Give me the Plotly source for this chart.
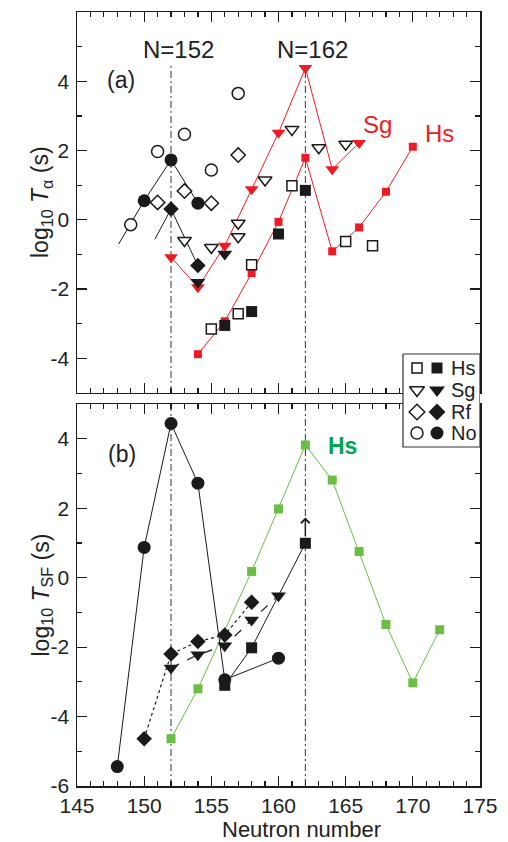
import plotly.graph_objects as go

# ---------------- data: panel (a) alpha half-lives ----------------
hs_open_a_n = [155, 157, 158, 161, 165, 167]
hs_open_a_v = [-3.15, -2.71, -1.30, 0.98, -0.63, -0.75]
hs_fill_a_n = [156, 158, 160, 162]
hs_fill_a_v = [-3.05, -2.65, -0.41, 0.85]
sg_open_a_n = [153, 155, 157, 157, 159, 161, 163, 165]
sg_open_a_v = [-0.60, -0.80, -0.10, -0.49, 1.15, 2.61, 2.08, 2.18]
sg_fill_a_n = [154, 156]
sg_fill_a_v = [-1.80, -0.99]
rf_open_a_n = [151, 153, 155, 157]
rf_open_a_v = [0.50, 0.83, 0.48, 1.87]
rf_fill_a_n = [152, 154]
rf_fill_a_v = [0.31, -1.32]
rf_line_a_n = [150.8, 152, 154]
rf_line_a_v = [-0.56, 0.31, -1.32]
no_open_a_n = [149, 151, 153, 155, 157]
no_open_a_v = [-0.14, 1.97, 2.47, 1.44, 3.65]
no_fill_a_n = [150, 152, 154]
no_fill_a_v = [0.55, 1.73, 0.48]
no_line_a_n = [148.1, 150, 152, 154]
no_line_a_v = [-0.70, 0.55, 1.73, 0.48]
hs_calc_a_n = [154, 156, 158, 160, 162, 164, 166, 168, 170]
hs_calc_a_v = [-3.88, -2.93, -1.54, -0.06, 1.79, -0.91, -0.22, 0.81, 2.11]
sg_calc_a_n = [152, 154, 156, 158, 160, 162, 164, 166]
sg_calc_a_v = [-1.08, -1.95, -0.75, 0.88, 2.51, 4.38, 1.46, 2.22]

# ---------------- data: panel (b) SF half-lives ----------------
hs_fill_b_n = [156, 158, 162]
hs_fill_b_v = [-3.10, -2.02, 0.99]
hs_limit_b = 1.73
sg_fill_b_n = [152, 154, 156, 158, 160]
sg_fill_b_v = [-2.60, -2.22, -1.96, -1.22, -0.52]
rf_fill_b_n = [150, 152, 154, 156, 158]
rf_fill_b_v = [-4.64, -2.20, -1.84, -1.65, -0.71]
no_fill_b_n = [148, 150, 152, 154, 156, 160]
no_fill_b_v = [-5.44, 0.87, 4.44, 2.72, -2.94, -2.32]
hs_calc_b_n = [152, 154, 158, 160, 162, 164, 166, 168, 170, 172]
hs_calc_b_v = [-4.64, -3.20, 0.18, 1.98, 3.82, 2.81, 0.75, -1.35, -3.03, -1.50]

magic_n = [152, 162]
x_ticks = [145, 150, 155, 160, 165, 170, 175]
ya_ticks = [-4, -2, 0, 2, 4]
yb_ticks = [-6, -4, -2, 0, 2, 4]
legend_names = ["Hs", "Sg", "Rf", "No"]

FONT = "Liberation Sans, Arial, sans-serif"
RED = "#ed1c24"
GREEN_M = "#6abd45"
GREEN_T = "#00a651"
BLK = "#1a1a1a"

fig = go.Figure()


def lines(xs, ys, xa, ya, color=BLK, width=1.0, dash="solid"):
    fig.add_trace(go.Scatter(x=xs, y=ys, xaxis=xa, yaxis=ya, mode="lines",
                             line=dict(color=color, width=width, dash=dash),
                             hoverinfo="skip", showlegend=False))


def marks(xs, ys, xa, ya, symbol, size, fill, edge=BLK, ew=1.5):
    fig.add_trace(go.Scatter(x=xs, y=ys, xaxis=xa, yaxis=ya, mode="markers",
                             marker=dict(symbol=symbol, size=size, color=fill,
                                         line=dict(color=edge, width=ew)),
                             showlegend=False))


# ---- panel (a) ----
lines(sg_calc_a_n, sg_calc_a_v, "x", "y", RED, 1.0)
marks(sg_calc_a_n, sg_calc_a_v, "x", "y", "triangle-down", 12, RED, RED, 0)
lines(hs_calc_a_n, hs_calc_a_v, "x", "y", RED, 1.0)
marks(hs_calc_a_n, hs_calc_a_v, "x", "y", "square", 8, RED, RED, 0)
lines(no_line_a_n, no_line_a_v, "x", "y")
lines(rf_line_a_n, rf_line_a_v, "x", "y")
marks(no_open_a_n, no_open_a_v, "x", "y", "circle", 12, "white")
marks(rf_open_a_n, rf_open_a_v, "x", "y", "diamond", 11, "white")
marks(sg_open_a_n, sg_open_a_v, "x", "y", "triangle-down", 12, "white")
marks(hs_open_a_n, hs_open_a_v, "x", "y", "square", 10, "white")
marks(no_fill_a_n, no_fill_a_v, "x", "y", "circle", 13, BLK, BLK, 0)
marks(rf_fill_a_n, rf_fill_a_v, "x", "y", "diamond", 12, BLK, BLK, 0)
marks(sg_fill_a_n, sg_fill_a_v, "x", "y", "triangle-down", 13, BLK, BLK, 0)
marks(hs_fill_a_n, hs_fill_a_v, "x", "y", "square", 11, BLK, BLK, 0)

# ---- panel (b) ----
lines(hs_calc_b_n, hs_calc_b_v, "x2", "y2", GREEN_M, 1.0)
marks(hs_calc_b_n, hs_calc_b_v, "x2", "y2", "square", 9, GREEN_M, GREEN_M, 0)
lines(rf_fill_b_n, rf_fill_b_v, "x2", "y2", BLK, 1.2, "dot")
lines(sg_fill_b_n, sg_fill_b_v, "x2", "y2", BLK, 1.2, "dash")
lines(no_fill_b_n[:5], no_fill_b_v[:5], "x2", "y2")
lines([no_fill_b_n[4], no_fill_b_n[5]], [no_fill_b_v[4], no_fill_b_v[5]], "x2", "y2")
lines(hs_fill_b_n, hs_fill_b_v, "x2", "y2")
marks(hs_fill_b_n, hs_fill_b_v, "x2", "y2", "square", 11, BLK, BLK, 0)
marks(sg_fill_b_n, sg_fill_b_v, "x2", "y2", "triangle-down", 13, BLK, BLK, 0)
marks(rf_fill_b_n, rf_fill_b_v, "x2", "y2", "diamond", 12, BLK, BLK, 0)
marks(no_fill_b_n, no_fill_b_v, "x2", "y2", "circle", 13, BLK, BLK, 0)

# ---- legend box (overlay subplot in pixel-like units) ----
box_x = [403, 480, 480, 403, 403]
box_y = [354, 354, 447, 447, 354]
fig.add_trace(go.Scatter(x=box_x, y=box_y, xaxis="x3", yaxis="y3", mode="lines",
                         fill="toself", fillcolor="white",
                         line=dict(color="#333", width=1.2), hoverinfo="skip",
                         showlegend=False))
leg_y = [368, 390, 412, 433]
leg_open = ["square", "triangle-down", "diamond", "circle"]
leg_sizes = [10, 13, 12, 12]
for yy, s, sz in zip(leg_y, leg_open, leg_sizes):
    marks([417], [yy], "x3", "y3", s, sz, "white")
    marks([437], [yy], "x3", "y3", s, sz + 1, BLK, BLK, 0)

# magic-number lines
shapes = []
for n in magic_n:
    shapes.append(dict(type="line", xref="x", yref="y", x0=n, x1=n, y0=-5, y1=4.5,
                       line=dict(color="#333", width=1, dash="7px,3px,2px,3px"), layer="below"))
    shapes.append(dict(type="line", xref="x2", yref="y2", x0=n, x1=n, y0=-6, y1=5,
                       line=dict(color="#333", width=1, dash="7px,3px,2px,3px"), layer="below"))

ann = []
tf = dict(family=FONT, size=23, color="#222")
for n in magic_n:
    ann.append(dict(x=n + 0.55, y=4.92, xref="x", yref="y", text="N=%d" % n,
                    showarrow=False, font=dict(family=FONT, size=24, color="#222")))
ann.append(dict(x=148.3, y=4.03, xref="x", yref="y", text="(a)", showarrow=False, font=tf))
ann.append(dict(x=148.35, y=3.57, xref="x2", yref="y2", text="(b)", showarrow=False, font=tf))
ann.append(dict(x=167.4, y=2.76, xref="x", yref="y", text="Sg", showarrow=False,
                font=dict(family=FONT, size=24, color=RED)))
ann.append(dict(x=172.0, y=2.5, xref="x", yref="y", text="Hs", showarrow=False,
                font=dict(family=FONT, size=24, color=RED)))
ann.append(dict(x=164.8, y=3.8, xref="x2", yref="y2", text="<b>Hs</b>", showarrow=False,
                font=dict(family=FONT, size=23, color=GREEN_T)))
ann.append(dict(x=162, y=hs_limit_b, xref="x2", yref="y2", ax=162, ay=hs_fill_b_v[2] + 0.15,
                axref="x2", ayref="y2", text="", showarrow=True, arrowhead=4,
                arrowsize=1.2, arrowwidth=1.4, arrowcolor=BLK))
ann.append(dict(x=-0.129, y=0.5, xref="paper", yref="y", textangle=-90,
                text="log<sub>10</sub> <i>T</i><sub>α</sub> (s)", showarrow=False, font=tf))
ann.append(dict(x=-0.129, y=-0.5, xref="paper", yref="y2", textangle=-90,
                text="log<sub>10</sub> <i>T</i><sub>SF</sub> (s)", showarrow=False, font=tf))
ann.append(dict(x=0.558, y=-0.0565, xref="paper", yref="paper", yanchor="middle",
                text="Neutron number", showarrow=False,
                font=dict(family=FONT, size=22, color="#222")))
for yy, name in zip(leg_y, legend_names):
    ann.append(dict(x=449, y=yy, xref="x3", yref="y3", xanchor="left", yanchor="middle",
                    text=name, showarrow=False,
                    font=dict(family=FONT, size=20, color="#222")))

axis_common = dict(showline=True, linecolor=BLK, linewidth=1.5, mirror="ticks",
                   ticks="inside", ticklen=10, tickwidth=1.2, tickcolor=BLK,
                   showgrid=False, zeroline=False, automargin=False,
                   tickfont=dict(family=FONT, size=21, color="#222"))
minor = dict(ticks="inside", ticklen=5, dtick=1, tickcolor=BLK, tickwidth=1.2)
fig.update_layout(
    width=508, height=842, plot_bgcolor="rgba(0,0,0,0)", paper_bgcolor="white",
    margin=dict(l=77, r=28, t=12, b=56),
    showlegend=False, shapes=shapes, annotations=ann,
    xaxis=dict(domain=[0, 1], anchor="y", range=[145, 175], tickvals=x_ticks,
               showticklabels=False, minor=minor, **axis_common),
    yaxis=dict(domain=[0.5078, 1.0], anchor="x", range=[-5, 6], tickvals=ya_ticks,
               ticktext=[str(v) for v in ya_ticks], ticklabelstandoff=2,
               minor=minor, **axis_common),
    xaxis2=dict(domain=[0, 1], anchor="y2", range=[145, 175], tickvals=x_ticks,
                ticktext=[str(v) for v in x_ticks], minor=minor, **axis_common),
    yaxis2=dict(domain=[0.0, 0.4935], anchor="x2", range=[-6, 5], tickvals=yb_ticks,
                ticktext=[str(v) for v in yb_ticks], ticklabelstandoff=2,
                minor=minor, **axis_common),
    xaxis3=dict(domain=[0, 1], anchor="y3", range=[77, 480], visible=False, fixedrange=True),
    yaxis3=dict(domain=[0, 1], anchor="x3", range=[786, 12], visible=False, fixedrange=True),
)

fig.write_html("out.html", config={"displayModeBar": False, "staticPlot": True},
               post_script="document.body.style.margin='0';")
